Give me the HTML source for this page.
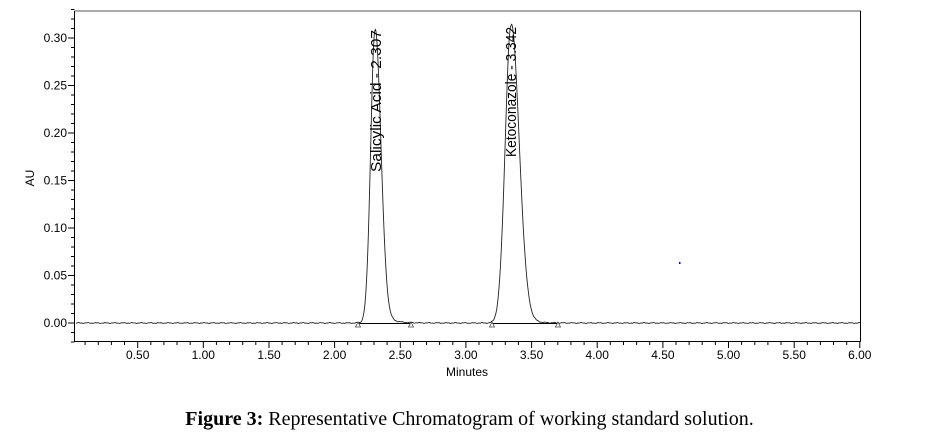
<!DOCTYPE html>
<html><head><meta charset="utf-8"><style>
body{margin:0;background:#fff;width:939px;height:443px;overflow:hidden}
svg{position:absolute;left:0;top:0}
.cap{position:absolute;left:0;width:939px;top:408px;text-align:center;font-family:"Liberation Serif",serif;font-size:20px;color:#000}
</style></head><body>
<svg width="939" height="443" font-family="Liberation Sans, sans-serif">
<g id="ax" stroke="#000" stroke-width="1" fill="none">
<path d="M74.5 11 V341.5 H860.5 V11 H74.5" stroke="#555"/>
<path d="M74.5 341.5 H860.5 M74.5 11 V341.5 M860.5 11 V341.5" stroke="#000"/>
</g>
<g id="ticks" stroke="#000"></g>
<g id="lbl" font-size="12" fill="#000"></g>
<text x="34" y="178" font-size="12" transform="rotate(-90 34 178)" text-anchor="middle">AU</text>
<text x="467" y="376" font-size="12" text-anchor="middle">Minutes</text>
<path id="trace" fill="none" stroke="#222" stroke-width="0.9"/>
<path d="M358 323.5 H411 M492 323.5 H558" stroke="#000" stroke-width="1"/>
<g fill="#fff" stroke="#444" stroke-width="0.8">
<path d="M358 322 L355.5 327 H360.5Z"/><path d="M411 322 L408.5 327 H413.5Z"/>
<path d="M492 322 L489.5 327 H494.5Z"/><path d="M558 322 L555.5 327 H560.5Z"/>
</g>
<text x="381" y="172" font-size="14.5" textLength="142" lengthAdjust="spacingAndGlyphs" transform="rotate(-90 381 172)">Salicylic Acid - 2.307</text>
<text x="516" y="157" font-size="14.5" textLength="130" lengthAdjust="spacingAndGlyphs" transform="rotate(-90 516 157)">Ketoconazole - 3.342</text>
<rect x="679" y="262" width="1.5" height="2" fill="#00c"/>
</svg>
<div class="cap"><b>Figure 3:</b> Representative Chromatogram of working standard solution.</div>
<script>
var X=function(t){return 72+t*131.3},Y=function(a){return 323-a*950};
var tk=document.getElementById('ticks'),lb=document.getElementById('lbl'),s='',l='';
for(var i=1;i<=60;i++){var x=X(i/10).toFixed(1);var big=i%5==0;s+='<line x1="'+x+'" y1="341.5" x2="'+x+'" y2="'+(big?348:345)+'"/>';
 if(big&&i>=5)l+='<text x="'+x+'" y="359" text-anchor="middle">'+(i/10).toFixed(2)+'</text>';}
for(var j=-2;j<=33;j++){var y=Y(j/100).toFixed(1);var big=j%5==0;s+='<line x1="'+(big?68:71)+'" y1="'+y+'" x2="74.5" y2="'+y+'"/>';
 if(big&&j>=0)l+='<text x="67" y="'+(+y+4)+'" text-anchor="end">'+(j/100).toFixed(2)+'</text>';}
tk.innerHTML=s;lb.innerHTML=l;
function pk(x,c,h,sl,sr){var d=x-c;var sg=d<0?sl:sr;var v=h*Math.exp(-d*d/(2*sg*sg));if(d>0)v+=h*0.05*Math.exp(-d/10)*(1-Math.exp(-d/4));return v;}
var p='';for(var x=76;x<=860;x+=0.5){var a=pk(x,375,0.308,4.3,5.8)+pk(x,511,0.313,5.8,8);
 var n=Math.sin(x*0.7)*0.6+Math.sin(x*1.9)*0.4;p+=(x==76?'M':'L')+x+' '+(Y(a)+n*0.5).toFixed(2);}
document.getElementById('trace').setAttribute('d',p);
</script>
</body></html>
